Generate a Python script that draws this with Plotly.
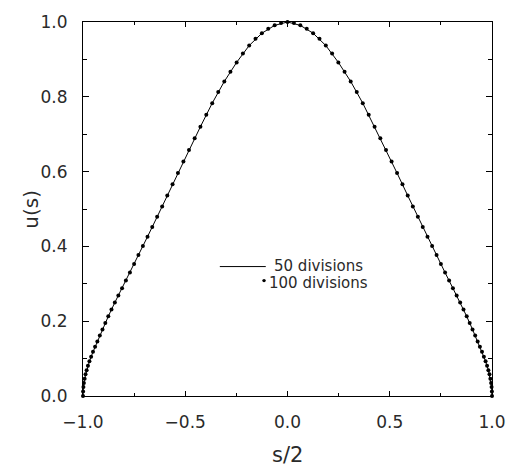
import plotly.graph_objects as go

# 100-division solution: nodes (s/2) and values u(s)
x100 = [-1.0000, -0.9995, -0.9980, -0.9956, -0.9921, -0.9877, -0.9823, -0.9759, -0.9686, -0.9603,
        -0.9511, -0.9409, -0.9298, -0.9178, -0.9048, -0.8910, -0.8763, -0.8607, -0.8443, -0.8271,
        -0.8090, -0.7902, -0.7705, -0.7501, -0.7290, -0.7071, -0.6845, -0.6613, -0.6374, -0.6129,
        -0.5878, -0.5621, -0.5358, -0.5090, -0.4818, -0.4540, -0.4258, -0.3971, -0.3681, -0.3387,
        -0.3090, -0.2790, -0.2487, -0.2181, -0.1874, -0.1564, -0.1253, -0.0941, -0.0628, -0.0314,
        0.0000,
        0.0314, 0.0628, 0.0941, 0.1253, 0.1564, 0.1874, 0.2181, 0.2487, 0.2790, 0.3090,
        0.3387, 0.3681, 0.3971, 0.4258, 0.4540, 0.4818, 0.5090, 0.5358, 0.5621, 0.5878,
        0.6129, 0.6374, 0.6613, 0.6845, 0.7071, 0.7290, 0.7501, 0.7705, 0.7902, 0.8090,
        0.8271, 0.8443, 0.8607, 0.8763, 0.8910, 0.9048, 0.9178, 0.9298, 0.9409, 0.9511,
        0.9603, 0.9686, 0.9759, 0.9823, 0.9877, 0.9921, 0.9956, 0.9980, 0.9995, 1.0000]
u100 = [0.000, 0.012, 0.024, 0.035, 0.046, 0.058, 0.069, 0.081, 0.093, 0.105,
        0.118, 0.132, 0.146, 0.162, 0.178, 0.195, 0.213, 0.231, 0.250, 0.269,
        0.288, 0.309, 0.330, 0.353, 0.377, 0.401, 0.426, 0.452, 0.479, 0.507,
        0.536, 0.566, 0.596, 0.627, 0.658, 0.689, 0.720, 0.752, 0.783, 0.813,
        0.841, 0.867, 0.892, 0.916, 0.937, 0.955, 0.970, 0.982, 0.991, 0.997,
        1.000,
        0.997, 0.991, 0.982, 0.970, 0.955, 0.937, 0.916, 0.892, 0.867, 0.841,
        0.813, 0.783, 0.752, 0.720, 0.689, 0.658, 0.627, 0.596, 0.566, 0.536,
        0.507, 0.479, 0.452, 0.426, 0.401, 0.377, 0.353, 0.330, 0.309, 0.288,
        0.269, 0.250, 0.231, 0.213, 0.195, 0.178, 0.162, 0.146, 0.132, 0.118,
        0.105, 0.093, 0.081, 0.069, 0.058, 0.046, 0.035, 0.024, 0.012, 0.000]

# 50-division solution
x50 = [-1.0000, -0.9980, -0.9921, -0.9823, -0.9686, -0.9511, -0.9298, -0.9048, -0.8763, -0.8443,
       -0.8090, -0.7705, -0.7290, -0.6845, -0.6374, -0.5878, -0.5358, -0.4818, -0.4258, -0.3681,
       -0.3090, -0.2487, -0.1874, -0.1253, -0.0628, 0.0000, 0.0628, 0.1253, 0.1874, 0.2487,
       0.3090, 0.3681, 0.4258, 0.4818, 0.5358, 0.5878, 0.6374, 0.6845, 0.7290, 0.7705,
       0.8090, 0.8443, 0.8763, 0.9048, 0.9298, 0.9511, 0.9686, 0.9823, 0.9921, 0.9980, 1.0000]
u50 = [0.000, 0.024, 0.046, 0.069, 0.093, 0.118, 0.146, 0.178, 0.213, 0.250,
       0.288, 0.330, 0.377, 0.426, 0.479, 0.536, 0.596, 0.658, 0.720, 0.783,
       0.841, 0.892, 0.937, 0.970, 0.991, 1.000, 0.991, 0.970, 0.937, 0.892,
       0.841, 0.783, 0.720, 0.658, 0.596, 0.536, 0.479, 0.426, 0.377, 0.330,
       0.288, 0.250, 0.213, 0.178, 0.146, 0.118, 0.093, 0.069, 0.046, 0.024, 0.000]

x_ticks = [-1.0, -0.5, 0.0, 0.5, 1.0]
y_ticks = [0.0, 0.2, 0.4, 0.6, 0.8, 1.0]
legend_labels = ["50 divisions", "100 divisions"]

W, H = 518, 468
L, R, T, B = 83, 21, 16, 72
pw, ph = W - L - R, H - T - B

def px(xp):
    return (xp - L) / pw

def py(yp):
    return (H - B - yp) / ph

FONT = "DejaVu Sans"
TXT = "#2a2a2a"

fig = go.Figure()
fig.add_trace(go.Scatter(x=x50, y=u50, mode="lines",
                         line=dict(color="black", width=1), cliponaxis=False,
                         showlegend=False, hoverinfo="skip"))
fig.add_trace(go.Scatter(x=x100, y=u100, mode="markers",
                         marker=dict(color="black", size=4), cliponaxis=False,
                         showlegend=False))

axis_common = dict(showgrid=False, zeroline=False, showline=True, linecolor="black",
                   linewidth=1.2, mirror="allticks", ticks="inside", tickcolor="black",
                   tickwidth=1, tickformat=".1f",
                   tickfont=dict(family=FONT, size=17, color=TXT))

fig.update_xaxes(range=[-1, 1], tickvals=x_ticks, ticklen=5,
                 minor=dict(ticks="inside", dtick=0.25, ticklen=3, tickcolor="black", tickwidth=1),
                 ticklabelstandoff=10, **axis_common)
fig.update_yaxes(range=[0, 1], tickvals=y_ticks, ticklen=6,
                 minor=dict(ticks="inside", dtick=0.1, ticklen=4, tickcolor="black", tickwidth=1),
                 ticklabelstandoff=11, **axis_common)

# legend drawn as line sample, dot sample and text
fig.add_shape(type="line", xref="paper", yref="paper",
              x0=px(221.5), x1=px(268), y0=py(264.5), y1=py(264.5),
              line=dict(color="black", width=1))
fig.add_shape(type="circle", xref="paper", yref="paper",
              x0=px(264.5), x1=px(268), y0=py(280.5), y1=py(277),
              fillcolor="black", line=dict(color="black", width=0))
fig.add_annotation(xref="paper", yref="paper", x=px(275), y=py(263.5),
                   text=legend_labels[0], showarrow=False, xanchor="left", yanchor="middle",
                   borderpad=0, font=dict(family=FONT, size=15, color=TXT))
fig.add_annotation(xref="paper", yref="paper", x=px(270.5), y=py(281.5),
                   text=legend_labels[1], showarrow=False, xanchor="left", yanchor="middle",
                   borderpad=0, font=dict(family=FONT, size=15, color=TXT))

# axis titles
fig.add_annotation(xref="paper", yref="paper", x=px(290), y=py(456),
                   text="s/2", showarrow=False, xanchor="center", yanchor="middle",
                   font=dict(family=FONT, size=21, color=TXT))
fig.add_annotation(xref="paper", yref="paper", x=px(30), y=py(206),
                   text="u(s)", showarrow=False, xanchor="center", yanchor="middle",
                   textangle=-90, font=dict(family=FONT, size=20, color=TXT))

fig.update_layout(width=W, height=H, margin=dict(l=L, r=R, t=T, b=B),
                  paper_bgcolor="white", plot_bgcolor="white")

fig.write_html("out.html")
